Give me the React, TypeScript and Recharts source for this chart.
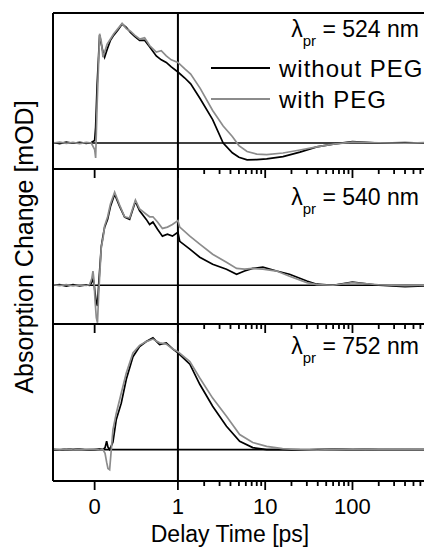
import { LineChart, Line, XAxis, YAxis, ReferenceLine, Legend } from 'recharts'

const FONT = '"Liberation Sans", Arial, Helvetica, sans-serif'
const W = 424
const H = 548
const LEFT = 53

// delay axis: linear up to 1 ps, logarithmic after that
const DECADE = 1.048
const toAxis = (d: number) => (d <= 1 ? d : 1 + DECADE * Math.log10(d))

const timeRange = [-0.5, 660]
const majorTicks = [0, 1, 10, 100]
const majorLabels = ['0', '1', '10', '100']
const minorTicks = [2, 3, 4, 5, 6, 7, 8, 9, 20, 30, 40, 50, 60, 70, 80, 90, 200, 300, 400, 500, 600]
const seriesOrder = ['without PEG', 'with PEG']

// 524 nm
const delays524 = [-0.5, -0.42, -0.34, -0.26, -0.18, -0.1, -0.04, 0, 0.012, 0.03, 0.06, 0.08, 0.1, 0.12, 0.15, 0.19, 0.23, 0.28, 0.33, 0.38, 0.43, 0.48, 0.54, 0.6, 0.66, 0.74, 0.8, 0.86, 0.92, 1, 1.2, 1.4, 1.8, 2.5, 3.3, 4.2, 5, 6.2, 8, 10.4, 16, 25, 39, 60, 100, 200, 400, 660]
const without524 = [0.004, -0.004, 0.006, -0.002, 0.005, -0.003, 0.004, 0.02, 0.12, 0.45, 0.83, 0.76, 0.7, 0.66, 0.72, 0.79, 0.83, 0.87, 0.915, 0.89, 0.85, 0.82, 0.79, 0.79, 0.74, 0.67, 0.64, 0.62, 0.585, 0.546, 0.5, 0.455, 0.34, 0.18, 0.0, -0.075, -0.11, -0.13, -0.128, -0.122, -0.105, -0.07, -0.03, -0.008, 0.01, 0.0, 0.004, 0.0]
const with524 = [0.0, 0.006, -0.003, 0.005, -0.004, 0.004, 0.0, -0.05, -0.115, 0.3, 0.84, 0.78, 0.66, 0.7, 0.76, 0.8, 0.84, 0.88, 0.92, 0.88, 0.86, 0.83, 0.8, 0.81, 0.75, 0.7, 0.71, 0.67, 0.64, 0.62, 0.57, 0.53, 0.42, 0.25, 0.13, 0.05, -0.02, -0.065, -0.085, -0.09, -0.077, -0.054, -0.03, -0.008, 0.006, 0.002, -0.002, 0.003]

// 540 nm
const delays540 = [-0.5, -0.42, -0.34, -0.26, -0.18, -0.1, -0.06, -0.035, -0.02, -0.008, 0.005, 0.02, 0.034, 0.05, 0.08, 0.1, 0.12, 0.156, 0.19, 0.24, 0.3, 0.36, 0.42, 0.49, 0.54, 0.62, 0.66, 0.7, 0.755, 0.814, 0.874, 0.934, 1, 1.05, 1.37, 1.78, 2.5, 3.6, 4.7, 5.8, 7.2, 9.4, 13.5, 19, 30, 39, 60, 100, 200, 400, 660]
const without540 = [0.0, 0.005, -0.006, 0.004, -0.004, 0.003, 0.0, 0.02, 0.05, 0.02, -0.06, -0.13, -0.16, 0.02, 0.3, 0.38, 0.45, 0.51, 0.61, 0.705, 0.61, 0.527, 0.51, 0.65, 0.576, 0.51, 0.47, 0.49, 0.434, 0.38, 0.395, 0.38, 0.41, 0.34, 0.28, 0.217, 0.163, 0.124, 0.085, 0.11, 0.13, 0.14, 0.11, 0.085, 0.033, 0.008, 0.0, 0.025, 0.0, -0.01, -0.005]
const with540 = [0.004, -0.003, 0.005, -0.004, 0.003, -0.002, 0.006, 0.05, 0.11, 0.04, -0.12, -0.25, -0.29, -0.05, 0.3, 0.36, 0.46, 0.53, 0.63, 0.72, 0.62, 0.53, 0.52, 0.66, 0.59, 0.55, 0.53, 0.53, 0.49, 0.44, 0.45, 0.47, 0.5, 0.45, 0.38, 0.318, 0.24, 0.178, 0.13, 0.125, 0.13, 0.125, 0.11, 0.07, 0.02, 0.005, 0.0, 0.02, 0.004, -0.004, 0.0]

// 752 nm
const delays752 = [-0.5, -0.42, -0.34, -0.26, -0.18, -0.1, 0, 0.06, 0.1, 0.125, 0.144, 0.16, 0.18, 0.2, 0.22, 0.26, 0.32, 0.38, 0.46, 0.54, 0.62, 0.7, 0.78, 0.86, 0.94, 1, 1.37, 1.78, 2.5, 3.6, 5.1, 7.2, 10.4, 15.8, 25, 40, 60, 100, 200, 400, 660]
const without752 = [0.0, -0.004, 0.004, 0.0, 0.004, -0.003, 0.0, 0.003, 0.0, 0.015, 0.066, 0.02, 0.0, 0.03, 0.06, 0.24, 0.37, 0.56, 0.74, 0.82, 0.86, 0.89, 0.836, 0.85, 0.8, 0.77, 0.68, 0.52, 0.345, 0.186, 0.066, 0.016, 0.0, 0.0, -0.004, 0.0, 0.002, 0.004, 0.0, 0.0, 0.0]
const with752 = [0.004, -0.002, 0.005, -0.003, 0.002, 0.0, 0.004, -0.003, 0.0, -0.03, -0.1, -0.15, -0.16, 0.0, 0.16, 0.29, 0.45, 0.61, 0.77, 0.83, 0.86, 0.88, 0.85, 0.84, 0.8, 0.78, 0.7, 0.57, 0.41, 0.265, 0.12, 0.056, 0.026, 0.008, 0.0, -0.004, 0.0, 0.006, 0.0, 0.002, 0.0]

const panels = [
  { label: '524 nm', delays: delays524, without: without524, withPeg: with524, yDomain: [-0.2, 1.0], top: 13, bottom: 169, textY: 37, legend: true, labels: false },
  { label: '540 nm', delays: delays540, without: without540, withPeg: with540, yDomain: [-0.3, 0.9], top: 169, bottom: 324, textY: 205, legend: false, labels: false },
  { label: '752 nm', delays: delays752, without: without752, withPeg: with752, yDomain: [-0.25, 1.0], top: 324, bottom: 481, textY: 354, legend: false, labels: true },
]

const majorAxis = majorTicks.map(toAxis)
const tickValues = [...majorTicks, ...minorTicks].map(toAxis)

const makeTick = (showLabel: boolean) => (props: any) => {
  const { x, y, payload } = props
  const idx = majorAxis.findIndex((m) => Math.abs(m - payload.value) < 1e-6)
  const major = idx >= 0
  return (
    <g>
      <line x1={x} x2={x} y1={y} y2={y + (major ? 9 : 5)} stroke="#000" strokeWidth={1.8} />
      {showLabel && major && (
        <text x={x} y={y + 33} textAnchor="middle" fontSize={22} fontFamily={FONT} fill="#000">
          {majorLabels[idx]}
        </text>
      )}
    </g>
  )
}

const LegendBox = ({ payload }: { payload?: { value: string; color: string }[] }) => {
  const items = seriesOrder.map((name) => (payload ?? []).find((p) => p.value === name)).filter(Boolean) as { value: string; color: string }[]
  return (
    <svg width={219} height={70} style={{ display: 'block' }}>
      {items.map((p, i) => (
        <g key={p.value}>
          <line x1={6} x2={65} y1={18 + i * 31} y2={18 + i * 31} stroke={p.color} strokeWidth={2.2} />
          <text x={74} y={27 + i * 30.5} fontSize={24} letterSpacing={1} fontFamily={FONT} fill="#000">
            {p.value}
          </text>
        </g>
      ))}
    </svg>
  )
}

function Panel({ p }: { p: (typeof panels)[number] }) {
  const data = p.delays.map((d, i) => ({ t: toAxis(d), without: p.without[i], withPeg: p.withPeg[i] }))
  return (
    <div style={{ position: 'absolute', left: 0, top: 0 }}>
      <LineChart width={W} height={H} data={data} margin={{ top: p.top, right: 0, bottom: H - p.bottom - 1, left: LEFT - 1 }}>
        <XAxis
          dataKey="t"
          type="number"
          domain={timeRange.map(toAxis)}
          allowDataOverflow
          ticks={tickValues}
          interval={0}
          height={1}
          tickSize={0}
          tickMargin={0}
          tickLine={false}
          axisLine={{ stroke: '#000', strokeWidth: 2 }}
          tick={makeTick(p.labels)}
        />
        <YAxis
          type="number"
          domain={p.yDomain}
          allowDataOverflow
          width={1}
          tick={false}
          tickLine={false}
          axisLine={{ stroke: '#000', strokeWidth: 2 }}
        />
        {p.legend && <ReferenceLine y={p.yDomain[1]} stroke="#000" strokeWidth={2} />}
        <ReferenceLine y={0} stroke="#000" strokeWidth={1.6} />
        <ReferenceLine x={1} stroke="#000" strokeWidth={2} />
        <Line type="linear" dataKey="without" name="without PEG" stroke="#000" strokeWidth={1.7} dot={false} isAnimationActive={false} />
        <Line type="linear" dataKey="withPeg" name="with PEG" stroke="#8c8c8c" strokeWidth={1.7} dot={false} isAnimationActive={false} />
        {p.legend && (
          <Legend
            layout="horizontal"
            align="center"
            verticalAlign="middle"
            content={<LegendBox />}
            wrapperStyle={{ left: 205, top: 50, width: 219, height: 70 }}
          />
        )}
      </LineChart>
    </div>
  )
}

export default function App() {
  return (
    <div style={{ position: 'absolute', left: 0, top: 0, width: W, height: H, overflow: 'hidden', background: '#fff' }}>
      {panels.map((p) => (
        <Panel key={p.label} p={p} />
      ))}
      <svg width={W} height={H} style={{ position: 'absolute', left: 0, top: 0, pointerEvents: 'none' }}>
        {panels.map((p) => (
          <text key={p.label} x={419} y={p.textY} textAnchor="end" fontSize={23} fontFamily={FONT} fill="#000">
            <tspan>λ</tspan>
            <tspan dy={9} fontSize={15}>pr</tspan>
            <tspan dy={-9}> = {p.label}</tspan>
          </text>
        ))}
        <text x={33} y={247} transform="rotate(-90 33 247)" textAnchor="middle" fontSize={25} fontFamily={FONT} fill="#000">
          Absorption Change [mOD]
        </text>
        <text x={230} y={542} textAnchor="middle" fontSize={23} fontFamily={FONT} fill="#000">
          Delay Time [ps]
        </text>
      </svg>
    </div>
  )
}
